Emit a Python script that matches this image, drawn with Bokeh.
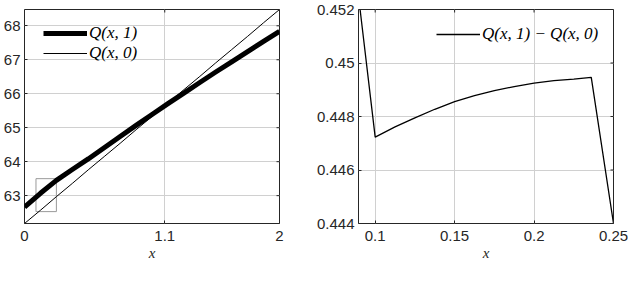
import math
from bokeh.plotting import figure
from bokeh.models import Range1d, FixedTicker, Legend, LegendItem
from bokeh.layouts import row
from bokeh.embed import file_html
from bokeh.resources import INLINE

# ---- data ----
q_x = [0.0, 0.125, 0.25, 0.375, 0.5, 0.625, 0.75, 0.875, 1.0, 1.125, 1.25,
       1.375, 1.5, 1.625, 1.75, 1.875, 2.0]
q1_vals = [62.66, 63.07, 63.45, 63.77, 64.08, 64.41, 64.74, 65.07, 65.39, 65.71,
           66.02, 66.33, 66.64, 66.94, 67.24, 67.54, 67.84]
q0_vals = [62.18, 62.57, 62.97, 63.36, 63.76, 64.15, 64.54, 64.94, 65.33, 65.72,
           66.12, 66.51, 66.91, 67.30, 67.69, 68.09, 68.48]
zoom_box_x = [0.09, 0.25]
zoom_box_y = [62.53, 63.5]

diff_x = [0.0905, 0.1, 0.1125, 0.125, 0.1375, 0.15, 0.1625, 0.175, 0.1875,
          0.2, 0.2125, 0.225, 0.236, 0.25]
diff_y = [0.4520, 0.44723, 0.44761, 0.44795, 0.44827, 0.44856, 0.44878, 0.44897,
          0.44912, 0.44925, 0.44934, 0.4494, 0.44946, 0.4440]

left_xlim = [0, 2]
left_ylim = [62.18, 68.48]
right_xlim = [0.0895, 0.25]
right_ylim = [0.444, 0.452]

left_xticks = [0, 1.1, 2]
left_xlabels = ["0", "1.1", "2"]
left_yticks = [63, 64, 65, 66, 67, 68]
left_ylabels = ["63", "64", "65", "66", "67", "68"]
right_xticks = [0.1, 0.15, 0.2, 0.25]
right_xlabels = ["0.1", "0.15", "0.2", "0.25"]
right_yticks = [0.444, 0.446, 0.448, 0.45, 0.452]
right_ylabels = ["0.444", "0.446", "0.448", "0.45", "0.452"]

AX = "#262626"
GRID = "#d0d0d0"
TICK_FONT = "Liberation Sans"
MATH_FONT = "Liberation Serif"
FH = 214
FW = 255
TICK = 3


def style(p, xlim, ylim, xt, xl, yt, yl):
    p.xaxis.ticker = FixedTicker(ticks=xt)
    p.yaxis.ticker = FixedTicker(ticks=yt)
    p.xaxis.major_label_overrides = dict(zip(xt, xl))
    p.yaxis.major_label_overrides = dict(zip(yt, yl))
    for ax in (p.xaxis, p.yaxis):
        ax.major_tick_in = TICK
        ax.major_tick_out = 0
        ax.minor_tick_line_color = None
        ax.axis_line_color = None
        ax.major_tick_line_color = AX
        ax.major_label_text_color = AX
        ax.major_label_text_font = TICK_FONT
        ax.major_label_text_font_size = "15px"
    p.xaxis.major_label_standoff = 7
    p.yaxis.major_label_standoff = 4
    p.xaxis.axis_label = "x"
    p.xaxis.axis_label_text_font = MATH_FONT
    p.xaxis.axis_label_text_font_style = "italic"
    p.xaxis.axis_label_text_font_size = "15px"
    p.xaxis.axis_label_text_color = AX
    p.xaxis.axis_label_standoff = 1
    # inward ticks on the top and right edges of the box
    p.ray(x=xt, y=[ylim[1]] * len(xt), length=TICK, length_units="screen",
          angle=-math.pi / 2, line_color=AX, line_width=1)
    p.ray(x=[xlim[1]] * len(yt), y=yt, length=TICK, length_units="screen",
          angle=math.pi, line_color=AX, line_width=1)
    p.xgrid.grid_line_color = GRID
    p.ygrid.grid_line_color = GRID
    p.outline_line_color = AX
    p.outline_line_width = 1
    p.outline_line_alpha = 1


def legend(items, loc):
    return Legend(items=items, location=loc, label_text_font=MATH_FONT,
                  label_text_font_style="italic", label_text_font_size="17px",
                  label_text_color="black",
                  glyph_width=44, glyph_height=20, label_height=20,
                  label_standoff=2, spacing=0, padding=0, margin=0,
                  background_fill_alpha=0, border_line_alpha=0)


p1 = figure(frame_width=FW, frame_height=FH, x_range=Range1d(*left_xlim),
            y_range=Range1d(*left_ylim), output_backend="svg",
            toolbar_location=None, min_border_left=20, min_border_right=19,
            min_border_top=9, min_border_bottom=0)
style(p1, left_xlim, left_ylim, left_xticks, left_xlabels, left_yticks, left_ylabels)
p1.quad(left=zoom_box_x[0], right=zoom_box_x[1], bottom=zoom_box_y[0], top=zoom_box_y[1],
        fill_color=None, line_color="#999999", line_width=1)
r1 = p1.line(q_x, q1_vals, line_width=5, color="black", line_join="round")
r0 = p1.line(q_x, q0_vals, line_width=1, color="black")
p1.add_layout(legend([LegendItem(label="Q(x, 1)", renderers=[r1]),
                      LegendItem(label="Q(x, 0)", renderers=[r0])], (19, FH - 14 - 40)))

p2 = figure(frame_width=FW, frame_height=FH, x_range=Range1d(*right_xlim),
            y_range=Range1d(*right_ylim), output_backend="svg",
            toolbar_location=None, min_border_left=60, min_border_right=15,
            min_border_top=9, min_border_bottom=0)
style(p2, right_xlim, right_ylim, right_xticks, right_xlabels, right_yticks, right_ylabels)
rd = p2.line(diff_x, diff_y, line_width=1.3, color="black")
p2.add_layout(legend([LegendItem(label="Q(x, 1) \u2212 Q(x, 0)", renderers=[rd])],
                     (78, FH - 15 - 20)))

layout = row(p1, p2)
open("out.html", "w").write(file_html(layout, INLINE))
